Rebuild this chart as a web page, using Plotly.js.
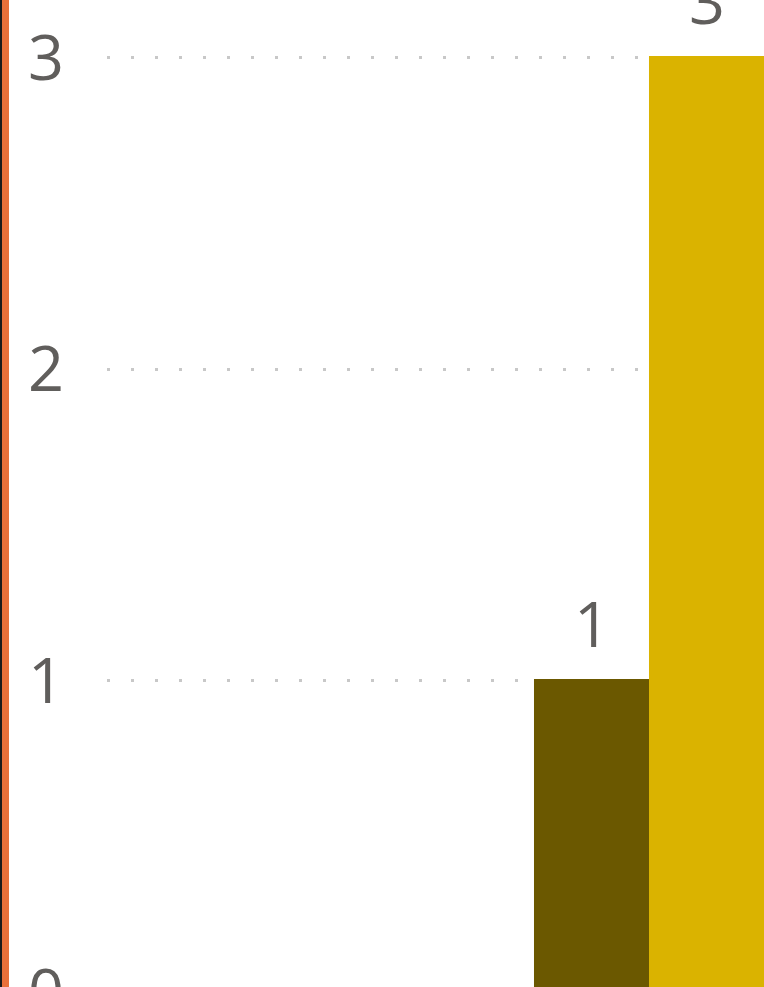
<!DOCTYPE html>
<html>
<head>
<meta charset="utf-8">
<script src="https://cdn.plot.ly/plotly-3.0.1.min.js"></script>
<style>
  html, body { margin: 0; padding: 0; width: 764px; height: 987px; overflow: hidden; background: #fff; }
  #wrap { position: absolute; left: 0; top: 0; width: 764px; height: 987px; overflow: hidden; }
  #chart { position: absolute; left: 0; top: -100px; width: 764px; height: 1200px; }
  #edgeDark { position: absolute; left: 0; top: 0; width: 2px; height: 987px; background: #1a1a1a; z-index: 5; }
  #edgeOrange { position: absolute; left: 2px; top: 0; width: 7px; height: 987px; background: #E8703A; z-index: 5; }
</style>
</head>
<body>
<div id="wrap">
  <div id="chart"></div>
  <div id="edgeDark"></div>
  <div id="edgeOrange"></div>
</div>
<script>
// Data
const categories = ["Series 1", "Series 2"];
const values = [1, 3];
const barColors = ["#6B5800", "#DAB300"];
const yTickVals = [0, 1, 2, 3];
const yTickText = ["0", "1", "2", "3"];

const labelFont = { family: "Open Sans, Noto Sans, sans-serif", size: 63, color: "#605E5C" };

const trace = {
  type: "bar",
  x: categories,
  y: values,
  marker: { color: barColors, line: { width: 3, color: barColors } },
  hoverinfo: "none"
};

const annotations = categories.map((c, i) => ({
  x: c,
  y: values[i],
  xref: "x",
  yref: "y",
  text: String(values[i]),
  showarrow: false,
  yanchor: "bottom",
  xanchor: "center",
  yshift: 14,
  font: labelFont
}));

const layout = {
  width: 764,
  height: 1200,
  margin: { l: 107, r: 0, t: 0, b: 108, pad: 0 },
  paper_bgcolor: "#ffffff",
  plot_bgcolor: "#ffffff",
  showlegend: false,
  bargap: 0.026,
  xaxis: {
    type: "category",
    range: [-4.2130, 1.5],
    showticklabels: false,
    showgrid: false,
    zeroline: false,
    showline: false,
    ticks: ""
  },
  yaxis: {
    range: [0, 3.5056],
    tickvals: yTickVals,
    ticktext: yTickText,
    showgrid: true,
    gridcolor: "#C8C8C8",
    gridwidth: 3,
    griddash: "3px,21px",
    zeroline: false,
    showline: false,
    ticks: "",
    ticklabelstandoff: 42,
    tickfont: labelFont
  },
  annotations: annotations
};

Plotly.newPlot("chart", [trace], layout, { displayModeBar: false, staticPlot: true });
</script>
</body>
</html>
